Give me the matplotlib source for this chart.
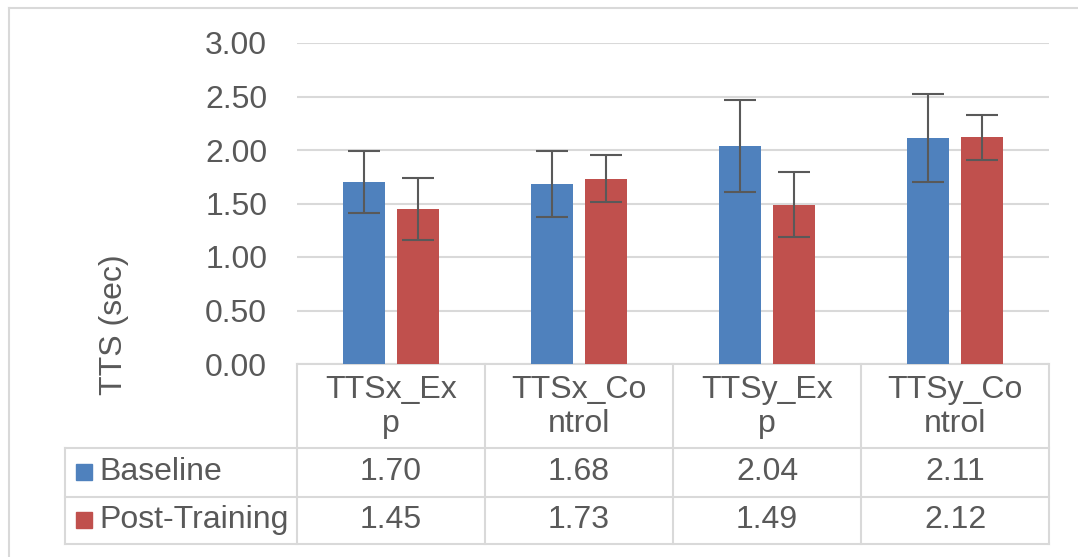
import matplotlib.pyplot as plt
import numpy as np
from matplotlib.lines import Line2D
from matplotlib.patches import Rectangle
from matplotlib.transforms import blended_transform_factory

categories = ['TTSx_Exp', 'TTSx_Control', 'TTSy_Exp', 'TTSy_Control']
series = ['Baseline', 'Post-Training']
baseline = [1.70, 1.68, 2.04, 2.11]
post = [1.45, 1.73, 1.49, 2.12]
baseline_err = [0.29, 0.31, 0.43, 0.41]
post_err = [0.29, 0.22, 0.30, 0.21]
yticks = [0.0, 0.5, 1.0, 1.5, 2.0, 2.5, 3.0]

blue = '#4F81BD'
red = '#C0504D'
txt = '#595959'
grid = '#D9D9D9'
fs = 23

plt.rcParams['font.family'] = ['Liberation Sans', 'DejaVu Sans']

W, H = 1078, 557
fig = plt.figure(figsize=(W / 100, H / 100), dpi=100)
# plot area in pixels: x 297..1049, y 43..364
ax = fig.add_axes([297 / W, 1 - 364 / H, (1049 - 297) / W, (364 - 43) / H])

x = np.arange(len(categories))
off = 0.1436
bw = 0.223
ekw = dict(ecolor=txt, elinewidth=1.5, capsize=11.5, capthick=1.5)
ax.bar(x - off, baseline, bw, color=blue, yerr=baseline_err, error_kw=ekw, zorder=3)
ax.bar(x + off, post, bw, color=red, yerr=post_err, error_kw=ekw, zorder=3)

ax.set_xlim(-0.5, len(categories) - 0.5)
ax.set_ylim(0, 3)
ax.set_yticks(yticks)
ax.set_yticklabels([f'{v:.2f}' for v in yticks], fontsize=fs, color=txt)
ax.tick_params(axis='y', length=0, pad=21.5)
ax.set_xticks([])
ax.yaxis.grid(True, color=grid, lw=1.5, zorder=0)
for s in ax.spines.values():
    s.set_visible(False)

ax.set_ylabel('TTS (sec)', fontsize=fs, color=txt)
ax.yaxis.set_label_coords((129 - 297) / (1049 - 297), (364 - 325) / 321)

# data table under the plot
tr = blended_transform_factory(ax.transData, ax.transAxes)
def ay(p):
    return (364 - p) / 321

left = -0.5 + (65 - 297) / 188
lkw = dict(color=grid, lw=1.5, transform=tr, clip_on=False)
ax.add_line(Line2D([-0.5, 3.5], [ay(364), ay(364)], **lkw))
for yy in [447.5, 496.5, 544]:
    ax.add_line(Line2D([left, 3.5], [ay(yy), ay(yy)], **lkw))
for xx in np.arange(len(categories) + 1) - 0.5:
    ax.add_line(Line2D([xx, xx], [ay(364), ay(544)], **lkw))
ax.add_line(Line2D([left, left], [ay(447.5), ay(544)], **lkw))

for i, c in enumerate(categories):
    lab = c[:7] + '\n' + c[7:]
    ax.text(i, ay(407), lab, transform=tr, ha='center', va='center',
            fontsize=fs, color=txt, linespacing=1.15)
    ax.text(i, ay(472), f'{baseline[i]:.2f}', transform=tr, ha='center',
            va='center', fontsize=fs, color=txt)
    ax.text(i, ay(520), f'{post[i]:.2f}', transform=tr, ha='center',
            va='center', fontsize=fs, color=txt)

kx = -0.5 + (76 - 297) / 188
kw = 16 / 188
for name, col, yc in [(series[0], blue, 472), (series[1], red, 520)]:
    ax.add_patch(Rectangle((kx, ay(yc + 8)), kw, 16 / 321, color=col,
                           transform=tr, clip_on=False))
    ax.text(-0.5 + (99 - 297) / 188, ay(yc), name, transform=tr, ha='left',
            va='center', fontsize=fs, color=txt)

# outer chart border (top and left visible)
fig.add_artist(Line2D([9 / W, 9 / W], [1 - 8 / H, 0], color=grid, lw=1.5))
fig.add_artist(Line2D([9 / W, 1], [1 - 8 / H, 1 - 8 / H], color=grid, lw=1.5))

fig.savefig('out.png', dpi=100)
